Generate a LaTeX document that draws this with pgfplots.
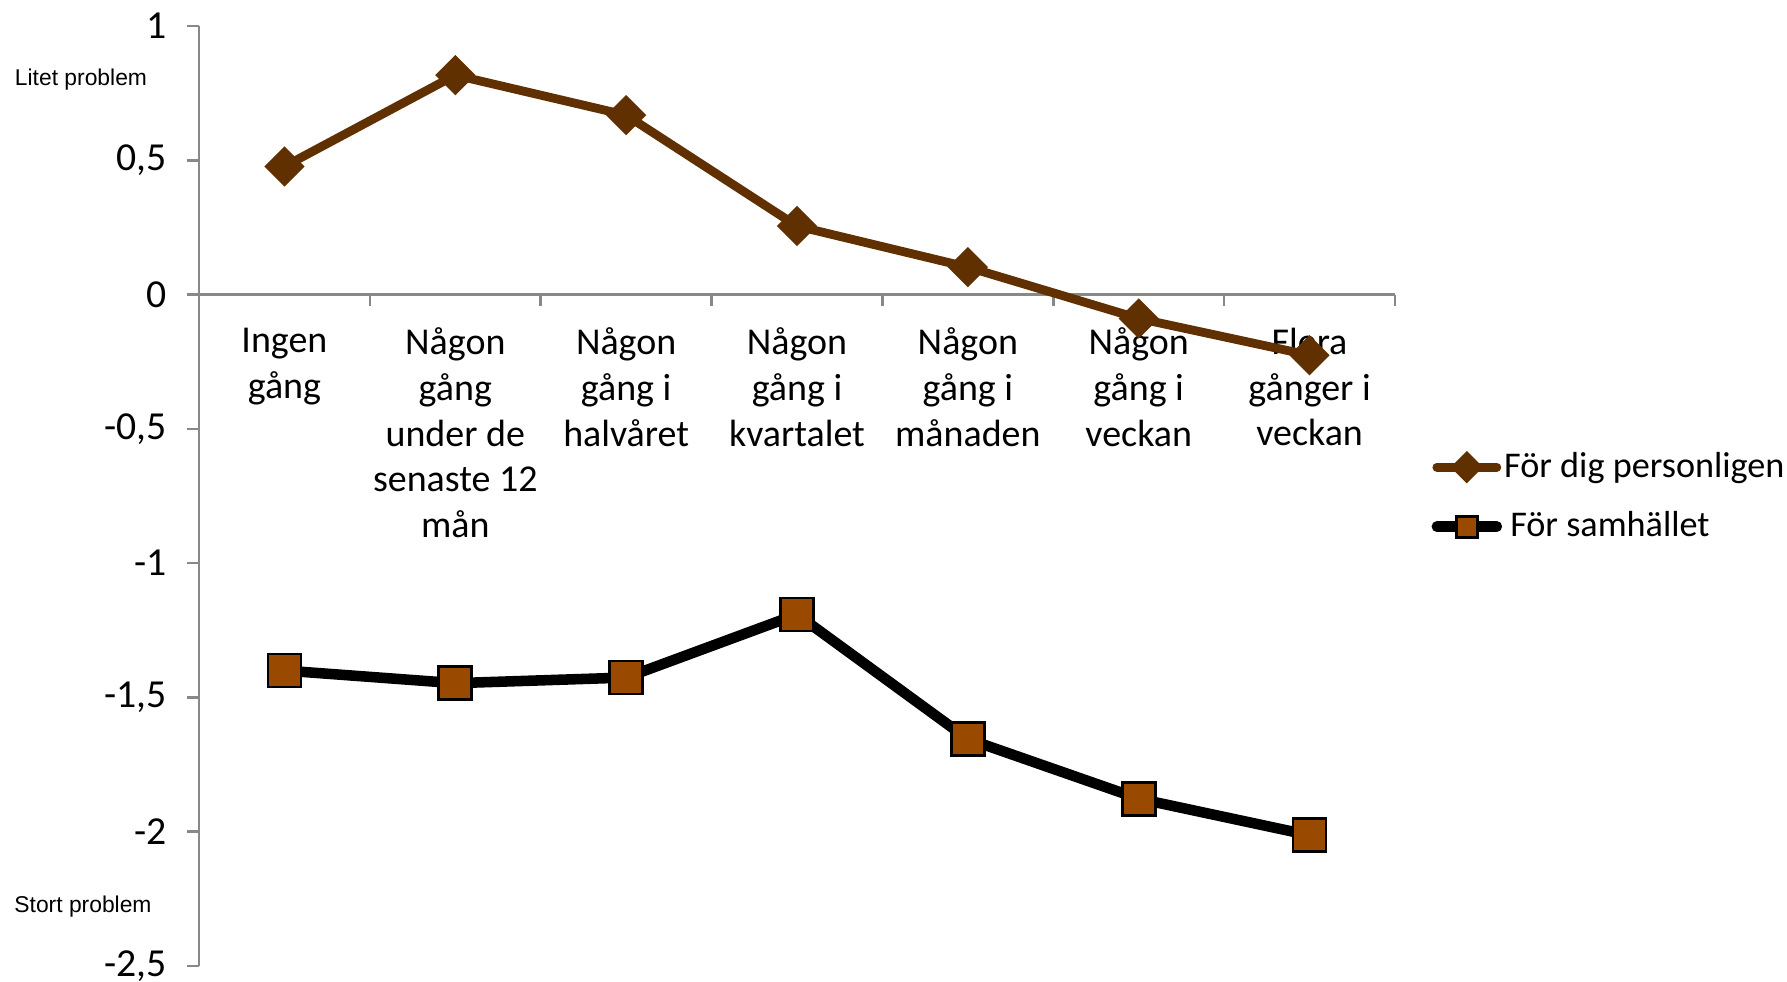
\documentclass[border=0pt]{standalone}
\usepackage{fontspec}
\setmainfont{Carlito}
\newfontfamily\arialfont{Liberation Sans}
\usepackage{pgfplots}
\pgfplotsset{compat=1.18}
\definecolor{brownA}{HTML}{603000}
\definecolor{brownB}{HTML}{9A4A00}
\definecolor{axgray}{HTML}{888888}
\begin{document}
\begin{tikzpicture}
\begin{axis}[
  name=ax,
  scale only axis, width=119.6mm, height=94mm,
  xmin=-0.5, xmax=6.5, ymin=-2.5, ymax=1,
  axis x line*=middle, axis y line*=left,
  hide obscured x ticks=false, hide obscured y ticks=false,
  axis line style={axgray, line width=0.7pt},
  tick style={axgray, line width=0.7pt},
  tick align=outside,
  major tick length=1.2mm, minor tick length=1.1mm,
  xtick={0,...,6},
  major x tick style={draw=none},
  minor x tick style={draw=axgray, line width=0.7pt},
  minor xtick={-0.5,0.5,...,6.5},
  xticklabels={{Ingen\\gång},{Någon\\gång\\under de\\senaste 12\\mån},{Någon\\gång i\\halvåret},{Någon\\gång i\\kvartalet},{Någon\\gång i\\månaden},{Någon\\gång i\\veckan},{Flera\\gånger i\\veckan}},
  xticklabel style={align=center, anchor=north, font=\fontsize{10.8}{13}\selectfont, yshift=-0.9mm},
  ytick={-2.5,-2,-1.5,-1,-0.5,0,0.5,1},
  yticklabels={{-2,5},{-2},{-1,5},{-1},{-0,5},{0},{0,5},{1}},
  yticklabel style={font=\fontsize{11.3}{13}\selectfont, xshift=-0.8mm},
  clip=false,
  legend style={draw=none, fill=none, at={(rel axis cs:1.03,0.499)}, anchor=west,
    row sep=1.5mm, font=\fontsize{10.3}{12}\selectfont, inner sep=0pt,
    nodes={inner xsep=0.6pt}},
  legend cell align=left,
  legend image post style={mark size=3pt, line cap=round},
]
\addplot[color=brownA, line width=2.5pt, mark=square*, mark size=3.8pt,
  mark options={rotate=45, fill=brownA, draw=brownA, line width=0.5pt}]
  coordinates {(0,0.477) (1,0.817) (2,0.668) (3,0.255) (4,0.102) (5,-0.089) (6,-0.226)};
\addlegendentry{För dig personligen}
\addplot[color=black, line width=3pt, mark=square*, mark size=4.7pt,
  mark options={fill=brownB, draw=black, line width=0.8pt}]
  coordinates {(0,-1.400) (1,-1.447) (2,-1.426) (3,-1.191) (4,-1.655) (5,-1.877) (6,-2.013)};
\addlegendentry{\,För samhället}
\node[font=\arialfont\fontsize{6.5}{7}\selectfont, xshift=-11.8mm] at (axis cs:-0.5,0.80) {Litet problem};
\node[font=\arialfont\fontsize{6.5}{7}\selectfont, xshift=-11.6mm] at (axis cs:-0.5,-2.28) {Stort problem};
\end{axis}
\pgfresetboundingbox
\useasboundingbox ([shift={(-19.9mm,-1.6mm)}]ax.south west) rectangle ([shift={(39.2mm,2.6mm)}]ax.north east);
\end{tikzpicture}
\end{document}
